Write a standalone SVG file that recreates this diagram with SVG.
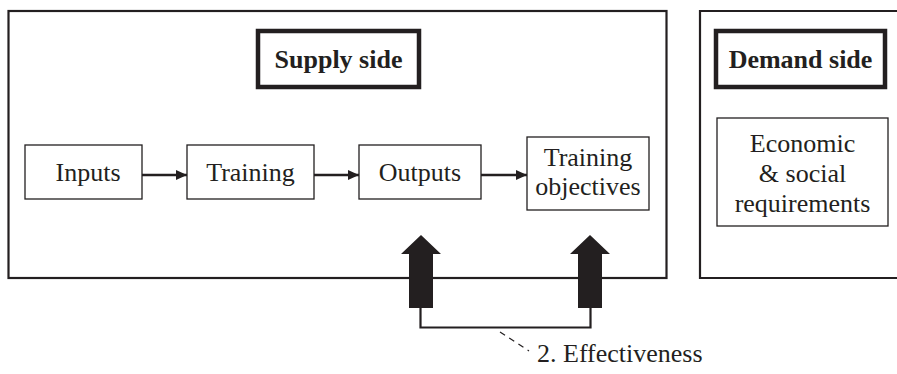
<svg xmlns="http://www.w3.org/2000/svg" width="897" height="374" viewBox="0 0 897 374">
<defs>
<marker id="ah" viewBox="0 0 10 10" refX="10" refY="5" markerWidth="16" markerHeight="11" markerUnits="userSpaceOnUse" orient="auto"><path d="M0,0.5 L10,5 L0,9.5 Z" fill="#231f20"/></marker>
<style>
.frame{fill:none;stroke:#231f20;stroke-width:2.2}
.title{fill:#fff;stroke:#231f20;stroke-width:4.5}
.box{fill:#fff;stroke:#231f20;stroke-width:1.3}
.t{font-family:"Liberation Serif","Times New Roman",serif;font-size:26px;fill:#231f20;text-anchor:middle}
.b{font-family:"Liberation Serif","Times New Roman",serif;font-size:26px;font-weight:bold;fill:#231f20;text-anchor:middle}
.conn{fill:none;stroke:#231f20;stroke-width:2.2}
.arr{fill:none;stroke:#231f20;stroke-width:2.6}
.big{fill:#231f20}
</style>
</defs>
<rect width="897" height="374" fill="#fff"/>
<g id="supply-frame"><rect class="frame" x="8.5" y="11" width="658" height="267"/></g>
<g id="demand-frame"><path class="frame" d="M900,11 H700 V278 H900"/></g>
<g id="supply-title"><rect class="title" x="258" y="31" width="161" height="56"/><text class="b" x="338.5" y="68">Supply side</text></g>
<g id="demand-title"><rect class="title" x="716" y="31" width="169" height="56"/><text class="b" x="800.5" y="68">Demand side</text></g>
<g id="inputs"><rect class="box" x="25" y="145" width="117" height="54"/><text class="t" x="88" y="181">Inputs</text></g>
<g id="training"><rect class="box" x="187" y="145" width="127" height="54"/><text class="t" x="250.5" y="181">Training</text></g>
<g id="outputs"><rect class="box" x="359" y="145" width="122" height="54"/><text class="t" x="420" y="181">Outputs</text></g>
<g id="objectives"><rect class="box" x="527" y="137" width="122" height="73"/><text class="t" x="588" y="166">Training</text><text class="t" x="588" y="195">objectives</text></g>
<g id="requirements"><rect class="box" x="717" y="118" width="171" height="108"/><text class="t" x="802.5" y="152">Economic</text><text class="t" x="802.5" y="182">&amp; social</text><text class="t" x="802.5" y="212">requirements</text></g>
<g id="connectors">
<line class="arr" x1="142" y1="175" x2="187" y2="175" marker-end="url(#ah)"/>
<line class="arr" x1="314" y1="175" x2="359" y2="175" marker-end="url(#ah)"/>
<line class="arr" x1="481" y1="175" x2="527" y2="175" marker-end="url(#ah)"/>
<path class="big" d="M421,235 L441,254 L433,254 L433,308 L409,308 L409,254 L401,254 Z"/>
<path class="big" d="M590,235 L610,254 L602,254 L602,308 L578,308 L578,254 L570,254 Z"/>
<path class="conn" d="M420.5,308 V327.5 H590.5 V308"/>
<line x1="500" y1="332" x2="529" y2="351" stroke="#231f20" stroke-width="1.2" stroke-dasharray="6,5"/>
</g>
<g id="effectiveness-label"><text class="t" x="537" y="362" style="text-anchor:start">2. Effectiveness</text></g>
</svg>
